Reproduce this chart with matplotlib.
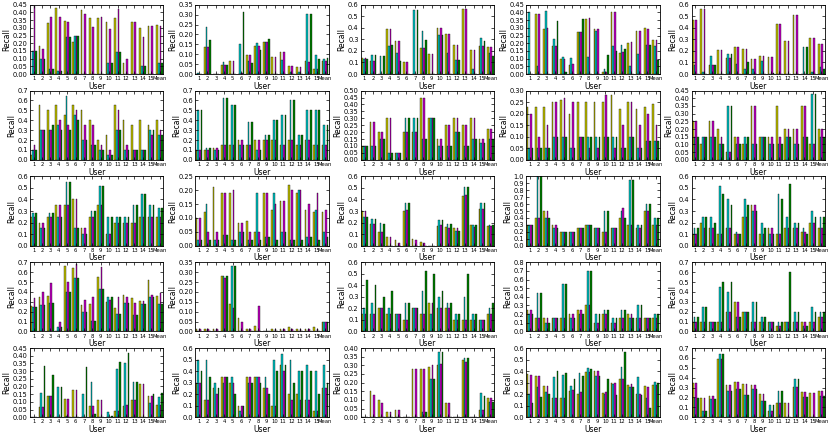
import numpy as np
import matplotlib
matplotlib.use("Agg")
import matplotlib.pyplot as plt
from matplotlib.ticker import FormatStrFormatter, MultipleLocator

# x categories
users = ["1", "2", "3", "4", "5", "6", "7", "8", "9", "10", "11", "12", "13", "14", "15", "Mean"]
series_colors = ["y", "c", "m", "g"]

# each panel: one row per user -> [yellow, cyan, magenta, green]
p11 = [[0, 0.15, 0.44, 0.15], [0.18, 0.10, 0.165, 0.10], [0.33, 0.035, 0.37, 0.035], [0.43, 0.02, 0.37, 0.02],
       [0.345, 0.24, 0.34, 0.24], [0.21, 0.245, 0.245, 0.245], [0.415, 0, 0.39, 0], [0.365, 0, 0.305, 0],
       [0.365, 0, 0.37, 0], [0.34, 0.07, 0.29, 0.07], [0.365, 0.145, 0.42, 0.145], [0.07, 0, 0.095, 0],
       [0.335, 0, 0.34, 0], [0.30, 0.055, 0.24, 0.055], [0.315, 0, 0.31, 0], [0.32, 0.07, 0.315, 0.07]]
p12 = [[0, 0.005, 0, 0], [0.135, 0.24, 0.135, 0.17], [0, 0, 0, 0], [0.045, 0.06, 0.045, 0.045],
       [0.065, 0, 0.065, 0], [0, 0.15, 0.005, 0.315], [0.095, 0.065, 0.095, 0.058], [0.14, 0.155, 0.14, 0.12],
       [0.16, 0.16, 0.16, 0.175], [0.085, 0, 0.085, 0], [0.11, 0.07, 0.11, 0], [0.042, 0.01, 0.042, 0],
       [0.037, 0.01, 0.037, 0], [0.065, 0.305, 0.06, 0.305], [0.025, 0.095, 0.025, 0.075], [0.068, 0.078, 0.068, 0.083]]
p13 = [[0.14, 0.13, 0.14, 0.13], [0.11, 0.165, 0.11, 0.165], [0, 0.16, 0, 0.155], [0.39, 0.245, 0.39, 0.25],
       [0.285, 0.18, 0.285, 0.11], [0.10, 0, 0.10, 0], [0, 0.555, 0, 0.555], [0.225, 0.375, 0.225, 0.295],
       [0.175, 0, 0.175, 0], [0.40, 0.335, 0.40, 0.335], [0.345, 0.18, 0.345, 0], [0.25, 0.125, 0.25, 0.125],
       [0.565, 0, 0.565, 0], [0.21, 0.04, 0.21, 0], [0.245, 0.31, 0.245, 0.29], [0.23, 0.185, 0.23, 0.16]]
p14 = [[0, 0.405, 0, 0], [0.39, 0.05, 0.39, 0], [0.295, 0.41, 0.30, 0], [0.185, 0.225, 0.18, 0.345],
       [0.10, 0.11, 0.10, 0.01], [0.06, 0.105, 0.065, 0], [0.275, 0.27, 0.275, 0.36], [0.36, 0.11, 0.365, 0],
       [0.29, 0.28, 0.29, 0], [0.015, 0.03, 0.01, 0.125], [0.40, 0.18, 0.40, 0.15], [0.135, 0.19, 0.14, 0.165],
       [0.20, 0.05, 0.21, 0], [0.28, 0.13, 0.28, 0], [0.30, 0.19, 0.295, 0.19], [0.22, 0.18, 0.22, 0.09]]
p15 = [[0.465, 0.075, 0.465, 0], [0.565, 0.02, 0.565, 0], [0.08, 0.16, 0.08, 0.075], [0.205, 0, 0.205, 0],
       [0.135, 0.175, 0.135, 0.175], [0.235, 0.09, 0.235, 0], [0.22, 0.04, 0.22, 0.105], [0.13, 0.04, 0.13, 0],
       [0.16, 0.11, 0.16, 0], [0.145, 0, 0.145, 0.01], [0.43, 0, 0.43, 0], [0.285, 0, 0.285, 0],
       [0.51, 0, 0.51, 0], [0, 0.23, 0, 0.23], [0.31, 0.02, 0.31, 0], [0.26, 0.065, 0.26, 0.04]]

p21 = [[0.05, 0.10, 0.15, 0.10], [0.55, 0.30, 0.30, 0.30], [0.50, 0.30, 0.30, 0.35], [0.55, 0.35, 0.40, 0.30],
       [0.45, 0.65, 0.35, 0.30], [0.55, 0.45, 0.50, 0.40], [0.50, 0.20, 0.35, 0.20], [0.40, 0.15, 0.35, 0.15],
       [0.20, 0.10, 0.15, 0.10], [0.25, 0.05, 0.10, 0.05], [0.55, 0.30, 0.50, 0.30], [0.40, 0.10, 0.15, 0.10],
       [0.35, 0.10, 0.10, 0.10], [0.40, 0.10, 0.10, 0.10], [0.35, 0.30, 0.25, 0.30], [0.40, 0.25, 0.30, 0.25]]
p22 = [[0.10, 0.50, 0.10, 0.50], [0.10, 0.12, 0.10, 0.12], [0.12, 0.10, 0.12, 0.10], [0.15, 0.63, 0.15, 0.63],
       [0.15, 0.55, 0.15, 0.55], [0.20, 0.15, 0.20, 0.15], [0.15, 0.38, 0.15, 0.38], [0.20, 0.10, 0.20, 0.10],
       [0.20, 0.25, 0.20, 0.25], [0.20, 0.40, 0.20, 0.40], [0.15, 0.45, 0.15, 0.45], [0.20, 0.60, 0.20, 0.60],
       [0.15, 0.25, 0.15, 0.25], [0.20, 0.50, 0.20, 0.50], [0.15, 0.50, 0.15, 0.50], [0.15, 0.35, 0.15, 0.35]]
p23 = [[0.10, 0.10, 0.10, 0.10], [0.27, 0.10, 0.27, 0.10], [0.20, 0.15, 0.20, 0.15], [0.30, 0.05, 0.30, 0.05],
       [0.05, 0.05, 0.05, 0.05], [0.20, 0.30, 0.20, 0.30], [0.20, 0.30, 0.20, 0.30], [0.45, 0.15, 0.45, 0.15],
       [0.30, 0.30, 0.30, 0.30], [0.15, 0.10, 0.15, 0.10], [0.25, 0.10, 0.25, 0.10], [0.30, 0.20, 0.30, 0.20],
       [0.25, 0.10, 0.25, 0.10], [0.30, 0.15, 0.30, 0.15], [0.15, 0.12, 0.15, 0.12], [0.22, 0.15, 0.22, 0.15]]
p24 = [[0.23, 0.05, 0.20, 0.05], [0.23, 0.05, 0.10, 0.05], [0.23, 0.05, 0.15, 0.05], [0.25, 0.10, 0.25, 0.10],
       [0.26, 0.10, 0.27, 0.10], [0.20, 0.05, 0.25, 0.05], [0.25, 0.10, 0.10, 0.10], [0.25, 0.10, 0.05, 0.10],
       [0.25, 0.10, 0.05, 0.10], [0.25, 0.10, 0.28, 0.10], [0.28, 0.10, 0.05, 0.10], [0.22, 0.05, 0.15, 0.05],
       [0.25, 0.10, 0.25, 0.10], [0.22, 0.05, 0.15, 0.05], [0.23, 0.08, 0.20, 0.08], [0.24, 0.08, 0.15, 0.08]]
p25 = [[0.25, 0.15, 0.25, 0.15], [0.10, 0.15, 0.15, 0.15], [0.25, 0.15, 0.25, 0.15], [0.20, 0.10, 0.15, 0.10],
       [0.05, 0.35, 0.05, 0.35], [0.15, 0.10, 0.15, 0.10], [0.10, 0.15, 0.10, 0.15], [0.35, 0.10, 0.35, 0.10],
       [0.15, 0.15, 0.15, 0.15], [0.15, 0.10, 0.15, 0.10], [0.35, 0.10, 0.15, 0.10], [0.20, 0.15, 0.20, 0.15],
       [0.20, 0.10, 0.20, 0.10], [0.35, 0.15, 0.35, 0.15], [0.10, 0.43, 0.10, 0.43], [0.20, 0.15, 0.20, 0.15]]

p31 = [[0.25, 0.28, 0.25, 0.28], [0.20, 0.15, 0.20, 0.15], [0.25, 0.28, 0.25, 0.28], [0.35, 0.25, 0.35, 0.25],
       [0.35, 0.55, 0.35, 0.55], [0.40, 0.15, 0.40, 0.15], [0.15, 0.10, 0.15, 0.10], [0.25, 0.30, 0.25, 0.30],
       [0.35, 0.52, 0.35, 0.52], [0.10, 0.25, 0.10, 0.25], [0.20, 0.25, 0.20, 0.25], [0.20, 0.25, 0.20, 0.25],
       [0.20, 0.35, 0.20, 0.35], [0.25, 0.45, 0.25, 0.45], [0.25, 0.35, 0.25, 0.35], [0.25, 0.33, 0.25, 0.33]]
p32 = [[0.10, 0.02, 0.10, 0.02], [0.12, 0.15, 0.05, 0.02], [0.21, 0.02, 0.05, 0.02], [0.19, 0.04, 0.19, 0.04],
       [0.19, 0.02, 0.20, 0.02], [0.08, 0.05, 0.08, 0.05], [0.09, 0.02, 0.05, 0.02], [0.05, 0.19, 0.05, 0.02],
       [0.19, 0.03, 0.19, 0.03], [0.13, 0.19, 0.15, 0.02], [0.16, 0.05, 0.16, 0.05], [0.22, 0.02, 0.20, 0.02],
       [0.19, 0.20, 0.20, 0.02], [0.13, 0.03, 0.15, 0.03], [0.12, 0.13, 0.19, 0.02], [0.12, 0.05, 0.13, 0.03]]
p33 = [[0.30, 0.25, 0.30, 0.25], [0.19, 0.235, 0.19, 0.235], [0.115, 0.195, 0.115, 0.19], [0.075, 0, 0.075, 0],
       [0.05, 0, 0.02, 0], [0.30, 0.37, 0.31, 0.37], [0.055, 0, 0.05, 0], [0.035, 0, 0.02, 0],
       [0, 0, 0, 0], [0.17, 0.225, 0.175, 0.225], [0.16, 0.19, 0.155, 0.19], [0.155, 0.13, 0.15, 0.13],
       [0.43, 0.505, 0.44, 0.505], [0.18, 0.18, 0.165, 0.18], [0.32, 0.37, 0.32, 0.37], [0.17, 0.175, 0.17, 0.175]]
p34 = [[0.30, 0.30, 0.30, 0.30], [0.40, 1.00, 0.40, 1.00], [0.50, 0.40, 0.50, 0.40], [0.30, 0.25, 0.30, 0.25],
       [0.20, 0.20, 0.20, 0.20], [0.20, 0.20, 0.20, 0.20], [0.25, 0.25, 0.25, 0.25], [0.30, 0.30, 0.30, 0.30],
       [0.25, 0.25, 0.25, 0.25], [0.20, 0.50, 0.20, 0.50], [0.25, 0.25, 0.25, 0.25], [0.40, 0.50, 0.55, 0.40],
       [0.30, 0.95, 0.30, 0.95], [0.25, 0.30, 0.25, 0.30], [0.50, 0.60, 0.50, 0.60], [0.30, 0.40, 0.30, 0.40]]
p35 = [[0.10, 0.15, 0.10, 0.15], [0.20, 0.25, 0.15, 0.25], [0.15, 0.25, 0.15, 0.20], [0.10, 0.52, 0.10, 0.45],
       [0.15, 0.40, 0.15, 0.35], [0.10, 0.12, 0.10, 0.10], [0.25, 0.40, 0.25, 0.35], [0.35, 0.30, 0.35, 0.30],
       [0.10, 0.20, 0.10, 0.15], [0.15, 0.10, 0.15, 0.10], [0.10, 0.45, 0.10, 0.40], [0.15, 0.25, 0.15, 0.53],
       [0.15, 0.20, 0.15, 0.20], [0.12, 0.15, 0.12, 0.10], [0.20, 0.30, 0.20, 0.25], [0.15, 0.25, 0.15, 0.25]]

p41 = [[0.26, 0.25, 0.335, 0.25], [0.345, 0.27, 0.395, 0.27], [0.355, 0.285, 0.49, 0.285], [0, 0.045, 0.10, 0.045],
       [0.665, 0.395, 0.50, 0.395], [0.64, 0.545, 0.685, 0.545], [0.27, 0.20, 0.315, 0.20], [0.28, 0.11, 0.345, 0.11],
       [0.55, 0.43, 0.65, 0.43], [0.295, 0.345, 0.32, 0.345], [0.24, 0.18, 0.345, 0.18], [0.365, 0.29, 0.345, 0.29],
       [0.335, 0.17, 0.29, 0.17], [0.305, 0.28, 0.305, 0.28], [0.52, 0.35, 0.365, 0.35], [0.36, 0.275, 0.385, 0.275]]
p42 = [[0.01, 0, 0.01, 0], [0.01, 0, 0.01, 0], [0.01, 0, 0.01, 0], [0.28, 0.28, 0.27, 0.28],
       [0.14, 0.33, 0.12, 0.33], [0.07, 0, 0.05, 0], [0.01, 0, 0.01, 0], [0.03, 0, 0.13, 0],
       [0, 0, 0, 0], [0.01, 0, 0.01, 0], [0.01, 0, 0.01, 0], [0.02, 0, 0.01, 0],
       [0.01, 0, 0.01, 0], [0.01, 0, 0.01, 0], [0.02, 0, 0.01, 0], [0.05, 0.05, 0.05, 0.05]]
p43 = [[0.15, 0.20, 0.15, 0.45], [0.15, 0.25, 0.15, 0.40], [0.20, 0.20, 0.20, 0.30], [0.15, 0.20, 0.15, 0.35],
       [0.15, 0.15, 0.15, 0.15], [0.10, 0.25, 0.10, 0.25], [0.20, 0.20, 0.20, 0.20], [0.15, 0.35, 0.15, 0.52],
       [0.25, 0.15, 0.25, 0.50], [0.20, 0.30, 0.20, 0.35], [0.20, 0.25, 0.20, 0.25], [0.10, 0.15, 0.10, 0.15],
       [0.10, 0.30, 0.10, 0.50], [0.10, 0.15, 0.10, 0.15], [0.10, 0.10, 0.10, 0.10], [0.15, 0.20, 0.15, 0.25]]
p44 = [[0.25, 0.20, 0.25, 0.20], [0.15, 0.45, 0.15, 0.45], [0.15, 0.10, 0.15, 0.10], [0.15, 0.15, 0.15, 0.15],
       [0.15, 0.55, 0.15, 0.55], [0.20, 0.15, 0.20, 0.15], [0.25, 0.20, 0.25, 0.20], [0.30, 0.70, 0.30, 0.70],
       [0.10, 0.20, 0.10, 0.20], [0.20, 0.25, 0.20, 0.25], [0.10, 0.15, 0.10, 0.15], [0.15, 0.25, 0.15, 0.25],
       [0.20, 0.15, 0.20, 0.15], [0.15, 0.30, 0.15, 0.30], [0.15, 0.15, 0.15, 0.15], [0.15, 0.20, 0.15, 0.20]]
p45 = [[0.10, 0.15, 0.10, 0.15], [0.10, 0.25, 0.10, 0.25], [0.10, 0.10, 0.10, 0.10], [0.10, 0.45, 0.10, 0.50],
       [0.20, 0.40, 0.20, 0.50], [0.30, 0.15, 0.30, 0.15], [0.20, 0.20, 0.20, 0.20], [0.10, 0.30, 0.10, 0.30],
       [0.10, 0.15, 0.10, 0.15], [0.10, 0.10, 0.10, 0.10], [0.05, 0.10, 0.05, 0.10], [0.10, 0.10, 0.10, 0.60],
       [0.10, 0.20, 0.10, 0.20], [0.10, 0.05, 0.10, 0.05], [0.10, 0.25, 0.10, 0.20], [0.15, 0.20, 0.15, 0.20]]

p51 = [[0, 0, 0, 0], [0.065, 0.155, 0.065, 0.335], [0.135, 0.14, 0.135, 0.275], [0, 0.195, 0, 0.195],
       [0.12, 0.01, 0.12, 0], [0.175, 0, 0.175, 0], [0, 0.15, 0, 0.325], [0.075, 0.23, 0.075, 0.02],
       [0.11, 0, 0.11, 0], [0, 0.035, 0, 0.01], [0.04, 0.315, 0.04, 0.36], [0.075, 0.355, 0.08, 0.42],
       [0.11, 0.23, 0.11, 0.23], [0.215, 0, 0.215, 0], [0.135, 0.09, 0.135, 0.15], [0.08, 0.13, 0.08, 0.155]]
p52 = [[0.30, 0.50, 0.30, 0.40], [0.15, 0.50, 0.15, 0.35], [0.25, 0.30, 0.20, 0.25], [0.35, 0.30, 0.35, 0.35],
       [0.30, 0.35, 0.30, 0.20], [0.10, 0.05, 0.10, 0.10], [0.35, 0.30, 0.35, 0.30], [0.35, 0.35, 0.35, 0.30],
       [0.25, 0.35, 0.25, 0.20], [0.10, 0.50, 0.10, 0.40], [0.45, 0.55, 0.40, 0.45], [0.20, 0.50, 0.15, 0.30],
       [0.20, 0.40, 0.15, 0.40], [0.15, 0.45, 0.15, 0.40], [0.05, 0.40, 0.05, 0.20], [0.25, 0.45, 0.25, 0.30]]
p53 = [[0, 0, 0, 0], [0.15, 0, 0.13, 0], [0.10, 0, 0.08, 0], [0.03, 0, 0.03, 0],
       [0.04, 0, 0.04, 0], [0, 0, 0, 0], [0.28, 0, 0.28, 0], [0.28, 0.03, 0.28, 0.03],
       [0.29, 0.22, 0.30, 0.22], [0.30, 0.38, 0.31, 0.38], [0.08, 0, 0.08, 0], [0, 0, 0, 0],
       [0.33, 0.34, 0.32, 0.34], [0, 0, 0, 0], [0.04, 0.14, 0.04, 0.12], [0.11, 0.09, 0.11, 0.09]]
p54 = [[0.375, 0.20, 0.37, 0.12], [0.36, 0.26, 0.36, 0.175], [0.275, 0.215, 0.27, 0.20], [0.165, 0.35, 0.17, 0.40],
       [0.17, 0.37, 0.17, 0.385], [0.23, 0.275, 0.235, 0.33], [0.205, 0.385, 0.215, 0.36], [0.39, 0.43, 0.395, 0.42],
       [0.40, 0.36, 0.40, 0.36], [0.21, 0.20, 0.215, 0.335], [0.30, 0.29, 0.30, 0.19], [0.335, 0.44, 0.335, 0.57],
       [0.28, 0.265, 0.285, 0.265], [0.20, 0.35, 0.20, 0.19], [0.27, 0.165, 0.265, 0.08], [0.28, 0.305, 0.28, 0.295]]
p55 = [[0.35, 0.19, 0.35, 0.19], [0.195, 0.065, 0.195, 0.065], [0.22, 0.185, 0.22, 0.185], [0.59, 0.64, 0.59, 0.64],
       [0.33, 0.265, 0.325, 0.265], [0.36, 0.29, 0.36, 0.29], [0.34, 0.23, 0.34, 0.23], [0.33, 0.29, 0.33, 0.29],
       [0.235, 0.165, 0.235, 0.165], [0.065, 0.125, 0.065, 0.125], [0.14, 0.27, 0.14, 0.27], [0.14, 0, 0.14, 0],
       [0.31, 0.385, 0.31, 0.385], [0.255, 0.205, 0.255, 0.205], [0.245, 0, 0.245, 0], [0.27, 0.22, 0.27, 0.22]]

panels = [[p11, p12, p13, p14, p15],
          [p21, p22, p23, p24, p25],
          [p31, p32, p33, p34, p35],
          [p41, p42, p43, p44, p45],
          [p51, p52, p53, p54, p55]]

# y axis top and step for each panel
ytops = [[0.45, 0.35, 0.6, 0.45, 0.6],
         [0.7, 0.7, 0.5, 0.3, 0.45],
         [0.6, 0.25, 0.6, 1.0, 0.6],
         [0.7, 0.35, 0.6, 0.8, 0.7],
         [0.45, 0.6, 0.4, 0.6, 0.7]]
ysteps = [[0.05, 0.05, 0.1, 0.05, 0.1],
          [0.1, 0.1, 0.05, 0.05, 0.05],
          [0.1, 0.05, 0.1, 0.1, 0.1],
          [0.1, 0.05, 0.1, 0.1, 0.1],
          [0.05, 0.1, 0.05, 0.1, 0.1]]

plt.rcParams["xtick.direction"] = "in"
plt.rcParams["ytick.direction"] = "in"
plt.rcParams["xtick.top"] = True
plt.rcParams["ytick.right"] = True
plt.rcParams["xtick.major.size"] = 2.5
plt.rcParams["ytick.major.size"] = 2.5
plt.rcParams["xtick.major.width"] = 0.5
plt.rcParams["ytick.major.width"] = 0.5
plt.rcParams["axes.linewidth"] = 0.6


def main():
    fig, axes = plt.subplots(5, 5, figsize=(8.3, 4.36), dpi=100)
    fig.subplots_adjust(left=0.036, right=0.994, top=0.989, bottom=0.043, wspace=0.24, hspace=0.24)

    ind = np.arange(len(users))
    width = 0.2
    for r in range(5):
        for c in range(5):
            ax = axes[r][c]
            data = np.array(panels[r][c])
            for k in range(4):
                ax.bar(ind - 0.4 + k * width, data[:, k], width, align="edge",
                       color=series_colors[k], edgecolor="k", linewidth=0.25)
            ax.set_xlim(-0.45, len(users) - 0.55)
            ax.set_ylim(0, ytops[r][c])
            ax.yaxis.set_major_locator(MultipleLocator(ysteps[r][c]))
            if ysteps[r][c] < 0.1:
                ax.yaxis.set_major_formatter(FormatStrFormatter("%.2f"))
            else:
                ax.yaxis.set_major_formatter(FormatStrFormatter("%.1f"))
            ax.set_xticks(ind)
            ax.set_xticklabels(users, fontsize=3.8)
            ax.tick_params(axis="y", labelsize=4.8, pad=1.5)
            ax.tick_params(axis="x", pad=1.5)
            ax.set_xlabel("User", fontsize=5.5, labelpad=0.5)
            ax.set_ylabel("Recall", fontsize=5.5, labelpad=1)

    fig.savefig("out.png", dpi=100)


if __name__ == "__main__":
    main()
